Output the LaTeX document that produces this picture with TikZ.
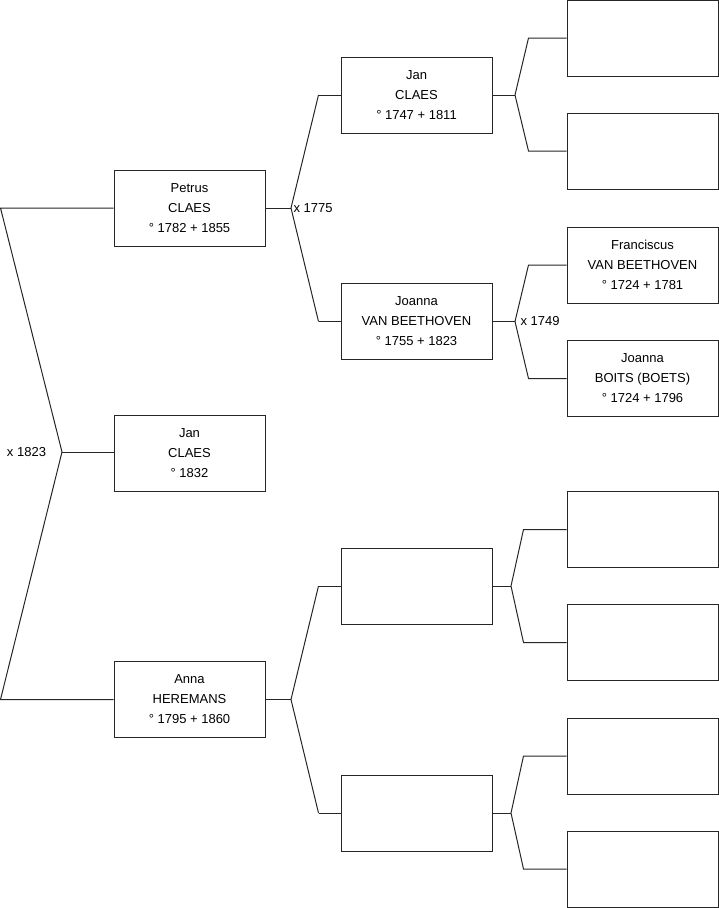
\documentclass[tikz,border=0pt]{standalone}
\usepackage{fontspec}
\setmainfont{Liberation Sans}
\begin{document}
\begin{tikzpicture}[x=1pt,y=-1pt,line width=1pt,line join=miter,
  person/.style={draw=black!85, fill=white, minimum width=151pt, minimum height=76pt, inner sep=0pt, align=center, font=\fontsize{13}{20}\selectfont},
  lbl/.style={inner sep=0pt, font=\fontsize{13}{20}\selectfont},
  link/.style={draw=black!85, line width=1pt}]
\useasboundingbox (0,0) rectangle (719,908);
% generation 1
\node[person] (P) at (189.5,208) {Petrus\\CLAES\\° 1782 + 1855};
\node[person] (C) at (189.5,453.5) {Jan\\CLAES\\° 1832};
\node[person] (A) at (189.5,699.5) {Anna\\HEREMANS\\° 1795 + 1860};
% generation 2
\node[person] (G1) at (416.5,95) {Jan\\CLAES\\° 1747 + 1811};
\node[person] (G2) at (416.5,321.5) {Joanna\\VAN BEETHOVEN\\° 1755 + 1823};
\node[person] (G3) at (416.5,586) {};
\node[person] (G4) at (416.5,813) {};
% generation 3
\node[person] (H1) at (642.5,38) {};
\node[person] (H2) at (642.5,151) {};
\node[person] (H3) at (642.5,265) {Franciscus\\VAN BEETHOVEN\\° 1724 + 1781};
\node[person] (H4) at (642.5,378.5) {Joanna\\BOITS (BOETS)\\° 1724 + 1796};
\node[person] (H5) at (642.5,529.5) {};
\node[person] (H6) at (642.5,642.5) {};
\node[person] (H7) at (642.5,756) {};
\node[person] (H8) at (642.5,869) {};
% junctions
\coordinate (L1) at (0.5,208);
\coordinate (L2) at (0.5,699.5);
\coordinate (J0) at (62,452);
\coordinate (J1) at (291,208);
\coordinate (J2) at (515,95);
\coordinate (J3) at (515,321.5);
\coordinate (J4) at (291,699.5);
\coordinate (J5) at (511,586);
\coordinate (J6) at (511,813);
% marriage labels
\node[lbl, anchor=east] (m1823) at (46.5,452) {x 1823};
\node[lbl, anchor=west] (m1775) at (293,208) {x 1775};
\node[lbl, anchor=west] (m1749) at (520,321.5) {x 1749};
% connectors
\draw[link] (P.west) -- (L1) -- (J0) -- (L2) -- (A.west);
\draw[link] (J0) -- (J0 -| C.west);
\draw[link] (P.east) -- (J1);
\draw[link] ([xshift=-22pt]G1.west) -- (J1) -- ([xshift=-22pt]G2.west);
\draw[link] ([xshift=-22pt]G1.west) -- (G1.west);
\draw[link] ([xshift=-22pt]G2.west) -- (G2.west);
\draw[link] (A.east) -- (J4);
\draw[link] ([xshift=-22pt]G3.west) -- (J4) -- ([xshift=-22pt]G4.west);
\draw[link] ([xshift=-22pt]G3.west) -- (G3.west);
\draw[link] ([xshift=-22pt]G4.west) -- (G4.west);
% generation 2 -> 3
\draw[link] (G1.east) -- (J2);
\draw[link] (H1.west) -- ([xshift=-38pt]H1.west) -- (J2) -- ([xshift=-38pt]H2.west) -- (H2.west);
\draw[link] (G2.east) -- (J3);
\draw[link] (H3.west) -- ([xshift=-38pt]H3.west) -- (J3) -- ([xshift=-38pt]H4.west) -- (H4.west);
\draw[link] (G3.east) -- (J5);
\draw[link] (H5.west) -- ([xshift=-43pt]H5.west) -- (J5) -- ([xshift=-43pt]H6.west) -- (H6.west);
\draw[link] (G4.east) -- (J6);
\draw[link] (H7.west) -- ([xshift=-43pt]H7.west) -- (J6) -- ([xshift=-43pt]H8.west) -- (H8.west);
\end{tikzpicture}
\end{document}
